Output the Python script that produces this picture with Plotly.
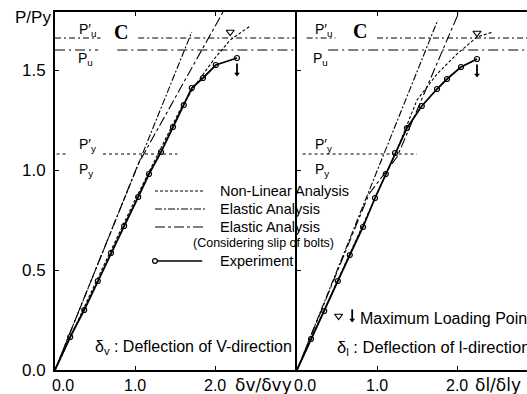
import plotly.graph_objects as go

# ---- left panel : V-direction ----
v_exp_x = [0.0, 0.19, 0.365, 0.535, 0.70, 0.865, 1.04, 1.175, 1.325, 1.475, 1.61, 1.71, 1.85, 2.01, 2.275]
v_exp_y = [0.0, 0.165, 0.30, 0.445, 0.585, 0.72, 0.865, 0.98, 1.09, 1.215, 1.325, 1.41, 1.46, 1.525, 1.56]
v_nl_x = [0.0, 0.5, 1.0, 1.3, 1.5, 1.6, 1.8, 2.0, 2.19, 2.44]
v_nl_y = [0.0, 0.43, 0.85, 1.09, 1.25, 1.33, 1.45, 1.56, 1.65, 1.72]
v_nl_peak_x = [2.19]
v_nl_peak_y = [1.69]
v_el_x = [0.0, 1.71]
v_el_y = [0.0, 1.69]
v_slip_x = [0.0, 1.04, 2.10]
v_slip_y = [0.0, 1.03, 1.79]

# ---- right panel : L-direction ----
l_exp_x = [0.0, 0.175, 0.34, 0.51, 0.66, 0.825, 0.975, 1.11, 1.225, 1.375, 1.56, 1.75, 1.875, 2.05, 2.25]
l_exp_y = [0.0, 0.155, 0.295, 0.445, 0.575, 0.715, 0.86, 0.98, 1.085, 1.21, 1.32, 1.405, 1.455, 1.515, 1.555]
l_nl_x = [0.0, 0.5, 1.0, 1.25, 1.5, 1.75, 2.0, 2.25, 2.45]
l_nl_y = [0.0, 0.44, 0.88, 1.10, 1.35, 1.48, 1.58, 1.665, 1.69]
l_nl_peak_x = [2.25]
l_nl_peak_y = [1.685]
l_el_x = [0.0, 1.76]
l_el_y = [0.0, 1.75]
l_slip_x = [0.0, 0.9, 1.25, 2.02]
l_slip_y = [0.0, 0.88, 1.065, 1.785]

# reference load levels
pu_prime = 1.66
pu = 1.60
py_prime = 1.08

y_ticks = [0.0, 0.5, 1.0, 1.5]
y_ticktext = ["0.0", "0.5", "1.0", "1.5"]
x_ticks = [0.0, 1.0, 2.0]
x_ticktext = ["0.0", "1.0", "2.0"]

NARROW = "Liberation Sans Narrow, Liberation Sans, Arial, sans-serif"
SANS = "Liberation Sans, Arial, sans-serif"
BLK = "black"

NL_DASH = "3px,2px"
EL_DASH = "7px,2px,2px,2px"
SLIP_DASH = "10px,3px,3px,3px"

fig = go.Figure()


def line(x, y, xa, ya, dash, width=1.1):
    fig.add_trace(go.Scatter(x=x, y=y, mode="lines", xaxis=xa, yaxis=ya,
                             line=dict(color=BLK, width=width, dash=dash)))


def max_mark(x, y, xa, ya):
    # filled "drop" arrow used for the experimental maximum
    fig.add_trace(go.Scatter(x=[x], y=[y + 0.02], mode="markers", xaxis=xa, yaxis=ya,
                             marker=dict(symbol="line-ns", size=8, line=dict(width=1.8, color=BLK))))
    fig.add_trace(go.Scatter(x=[x], y=[y - 0.005], mode="markers", xaxis=xa, yaxis=ya,
                             marker=dict(symbol="triangle-down", size=5, color=BLK)))


def panel(ex, ey, nx, ny, px, py, elx, ely, slx, sly, xa, ya):
    line(elx, ely, xa, ya, EL_DASH)
    line(slx, sly, xa, ya, SLIP_DASH)
    line(nx, ny, xa, ya, NL_DASH)
    fig.add_trace(go.Scatter(
        x=ex, y=ey, mode="lines+markers", xaxis=xa, yaxis=ya,
        line=dict(color=BLK, width=1.8),
        marker=dict(symbol="circle-open", size=5, color=BLK, line=dict(width=1.2),
                    opacity=[0] + [1] * (len(ex) - 1)),
    ))
    # maximum loading (analysis)
    fig.add_trace(go.Scatter(x=px, y=py, mode="markers", xaxis=xa, yaxis=ya,
                             marker=dict(symbol="triangle-down-open", size=7, color=BLK,
                                         line=dict(width=1.2))))
    max_mark(ex[-1], ey[-1] - 0.075, xa, ya)


panel(v_exp_x, v_exp_y, v_nl_x, v_nl_y, v_nl_peak_x, v_nl_peak_y,
      v_el_x, v_el_y, v_slip_x, v_slip_y, "x", "y")
panel(l_exp_x, l_exp_y, l_nl_x, l_nl_y, l_nl_peak_x, l_nl_peak_y,
      l_el_x, l_el_y, l_slip_x, l_slip_y, "x2", "y2")

# horizontal reference lines (broken around the labels)
PU_P_DASH = "6px,3px,2px,3px"
PU_DASH = "10px,4px,2px,4px"
line([0.0, 0.57], [pu_prime, pu_prime], "x", "y", PU_P_DASH, 1)
line([1.04, 3.03], [pu_prime, pu_prime], "x", "y", PU_P_DASH, 1)
line([0.0, 0.54], [pu, pu], "x", "y", PU_DASH, 1)
line([0.78, 3.03], [pu, pu], "x", "y", PU_DASH, 1)
line([0.02, 0.15], [py_prime, py_prime], "x", "y", "3px,3px", 1)
line([0.6, 1.53], [py_prime, py_prime], "x", "y", "3px,3px", 1)
line([0.12, 0.48], [pu_prime, pu_prime], "x2", "y2", PU_P_DASH, 1)
line([1.0, 2.9], [pu_prime, pu_prime], "x2", "y2", PU_P_DASH, 1)
line([0.39, 2.9], [pu, pu], "x2", "y2", PU_DASH, 1)
line([0.07, 1.5], [py_prime, py_prime], "x2", "y2", "3px,3px", 1)

ann = []


def text(x, y, s, xref, size=15, family=NARROW, anchor="left", **kw):
    ann.append(dict(x=x, y=y, xref=xref, yref="y" if xref == "x" else "y2",
                    text=s, showarrow=False, xanchor=anchor, yanchor="middle",
                    font=dict(family=family, size=size, color=BLK), **kw))


# level labels
for xr, xp in (("x", 0.28), ("x2", 0.20)):
    text(xp, 1.70, "P\u2032<sub>u</sub>", xr, 14, SANS)
    text(xp - 0.02, 1.555, "P<sub>u</sub>", xr, 14, SANS)
    text(xp, 1.125, "P\u2032<sub>y</sub>", xr, 14, SANS)
    text(xp, 1.00, "P<sub>y</sub>", xr, 14, SANS)
text(0.83, 1.69, "<b>C</b>", "x", 20, "Liberation Serif, serif", "center")
text(0.79, 1.695, "<b>C</b>", "x2", 20, "Liberation Serif, serif", "center")

# legend block
text(2.04, 0.895, "Non-Linear Analysis", "x", 14.5)
text(2.04, 0.805, "Elastic Analysis", "x", 14.5)
text(2.04, 0.715, "Elastic Analysis", "x", 14.5)
text(1.70, 0.637, "(Considering slip of bolts)", "x", 12.5, SANS)
text(2.04, 0.545, "Experiment", "x", 14.5)

text(0.47, 0.115, "\u03b4<sub>v</sub> : Deflection of V-direction", "x", 16)
text(0.47, 0.11, "\u03b4<sub>l</sub> : Deflection of l-direction", "x2", 16.5)
text(0.76, 0.26, "Maximum Loading Point", "x2", 16)

# x tick labels (drawn as text just below the frame)
for xr, yr in (("x", "y"), ("x2", "y2")):
    for tv, tt in zip(x_ticks, x_ticktext):
        ann.append(dict(x=tv, y=0, xref=xr, yref=yr, text=tt, showarrow=False,
                        xanchor="center", yanchor="middle", yshift=-15,
                        xshift=8 if tv == 0 else 0,
                        font=dict(family=NARROW, size=16, color=BLK)))

# axis titles
ann.append(dict(x=0, y=1, xref="paper", yref="paper", text="P/Py", showarrow=False,
                xanchor="right", yanchor="middle", xshift=-2, yshift=-5,
                font=dict(family=SANS, size=17, color=BLK)))
ann.append(dict(x=2.22, y=0, xref="x", yref="y", text="\u03b4v/\u03b4vy", showarrow=False,
                xanchor="left", yanchor="middle", yshift=-15,
                font=dict(family="DejaVu Sans, sans-serif", size=17, color=BLK)))
ann.append(dict(x=2.2, y=0, xref="x2", yref="y2", text="\u03b4l/\u03b4ly", showarrow=False,
                xanchor="left", yanchor="middle", yshift=-15,
                font=dict(family="DejaVu Sans, sans-serif", size=17, color=BLK)))

# symbols of the "Maximum Loading Point" note
fig.add_trace(go.Scatter(x=[0.52], y=[0.27], mode="markers", xaxis="x2", yaxis="y2",
                         marker=dict(symbol="triangle-down-open", size=7, color=BLK,
                                     line=dict(width=1.2))))
max_mark(0.69, 0.255, "x2", "y2")

shapes = [
    # gap in right axis behind the legend
    dict(type="rect", xref="x2", yref="y2", x0=-0.1, x1=0.08, y0=0.51, y1=0.92,
         fillcolor="white", line=dict(width=0), layer="above"),
]
# legend samples
for yy, dash in ((0.895, NL_DASH), (0.805, EL_DASH), (0.715, SLIP_DASH)):
    shapes.append(dict(type="line", xref="x", yref="y", x0=1.25, x1=1.875, y0=yy, y1=yy,
                       line=dict(color=BLK, width=1.1, dash=dash), layer="above"))
shapes.append(dict(type="line", xref="x", yref="y", x0=1.25, x1=1.84, y0=0.545, y1=0.545,
                   line=dict(color=BLK, width=1.4), layer="above"))
shapes.append(dict(type="circle", xref="x", yref="y", x0=1.22, x1=1.28, y0=0.533, y1=0.557,
                   fillcolor="white", line=dict(color=BLK, width=1.2), layer="above"))

SPLIT = 242 / 472
axis_common = dict(showline=True, linewidth=2, linecolor=BLK, ticks="inside", ticklen=4,
                   tickcolor=BLK, showgrid=False, zeroline=False, automargin=False,
                   tickfont=dict(family=NARROW, size=17, color=BLK))

fig.update_layout(
    width=527, height=394,
    margin=dict(l=55, r=0, t=12, b=24, autoexpand=False),
    paper_bgcolor="white", plot_bgcolor="white",
    showlegend=False,
    xaxis=dict(domain=[0, SPLIT], range=[0, 3.025], tickvals=x_ticks, showticklabels=False,
               mirror="ticks", **axis_common),
    yaxis=dict(domain=[0, 1], range=[0, 1.79], tickvals=y_ticks, ticktext=y_ticktext,
               ticklabelstandoff=4, **axis_common),
    xaxis2=dict(domain=[SPLIT, 1], range=[0, 2.875], tickvals=x_ticks, showticklabels=False,
                mirror="ticks", anchor="y2", **axis_common),
    yaxis2=dict(domain=[0, 1], range=[0, 1.79], tickvals=y_ticks, showticklabels=False,
                anchor="x2", **axis_common),
    annotations=ann,
    shapes=shapes,
)

# the page body has a default 8px margin; drop it so the figure sits at the corner
fig.write_html("out.html", config={"displayModeBar": False},
               post_script="document.body.style.margin='0';")
